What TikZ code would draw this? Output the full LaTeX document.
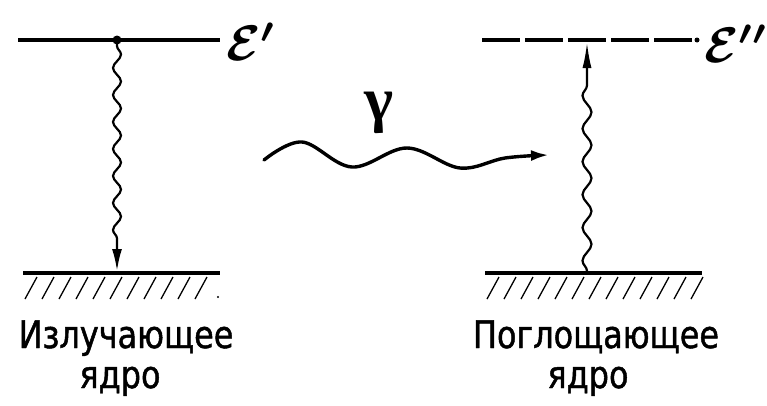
\documentclass[tikz,border=0pt]{standalone}
\usepackage{fontspec}
\usetikzlibrary{decorations.pathmorphing,arrows.meta}
\newfontfamily\rus{DejaVu Sans}[FakeStretch=0.84,FakeBold=1.2]
\newfontfamily\grk{Liberation Serif}
\begin{document}
\begin{tikzpicture}[x=1pt,y=-1pt,
  lvl/.style={line width=4pt},
  wavel/.style={line width=2.2pt,decorate,
     decoration={snake,amplitude=4pt,segment length=27pt,pre length=6pt,post length=24pt}},
  waver/.style={line width=2.2pt,decorate,
     decoration={snake,amplitude=4.5pt,segment length=33pt,pre length=2pt,post length=32pt}},
  txt/.style={anchor=base,inner sep=0pt,font=\rus\fontsize{38}{38}\selectfont},
  lab/.style={anchor=west,inner sep=0pt},
  hatch/.style={line width=1.3pt}]
\useasboundingbox (0,0) rectangle (767,405);
% left
\coordinate (L1) at (18,40); \coordinate (L2) at (220,40);
\coordinate (Ltop) at (117,40); \coordinate (Lbot) at (117,271);
\coordinate (G1) at (23,273); \coordinate (G2) at (220,273);
\draw[lvl] (L1) -- (L2);
\fill (Ltop) circle (4.5pt);
\node[lab] (eL) at (226,42) {\scalebox{5}{\boldmath$\mathcal{E}'$}};
\draw[lvl] (G1) -- (G2);
\draw[wavel,-{Latex[length=22pt,width=10pt]}] (Ltop) -- (Lbot);
\foreach \x in {32,49,...,215} \draw[hatch] (\x+5,277) -- (\x-7,299);
\fill (218,297) circle (1.2pt);
% right
\coordinate (R1) at (482,40); \coordinate (R2) at (697,40);
\coordinate (Rtop) at (587,42); \coordinate (Rbot) at (587,273);
\coordinate (H1) at (485,273); \coordinate (H2) at (702,273);
\draw[lvl,dash pattern=on 38pt off 5pt] (R1) -- (R2);
\fill (R2) circle (2.5pt);
\node[lab] (eR) at (704,44) {\scalebox{5}{\boldmath$\mathcal{E}''$}};
\draw[lvl] (H1) -- (H2);
\draw[waver,-{Latex[length=26pt,width=9pt]}] (Rbot) -- (Rtop);
\foreach \x in {494,511,...,700} \draw[hatch] (\x+5,277) -- (\x-7,299);
% gamma
\draw[line width=3.4pt,line cap=round,-{Latex[length=18pt,width=11pt]}]
  plot[smooth,tension=0.6] coordinates {(264,160) (302,142) (352,167) (407,148) (460,168) (505,158) (549,155)};
\node[inner sep=0pt,font=\grk\bfseries\fontsize{62}{62}\selectfont] (gam) at (379,113) {γ};
% texts
\node[txt] (t1) at (126,348) {Излучающее};
\node[txt] (t2) at (120,388) {ядро};
\node[txt] (t3) at (596,348) {Поглощающее};
\node[txt] (t4) at (588,388) {ядро};
\end{tikzpicture}
\end{document}
